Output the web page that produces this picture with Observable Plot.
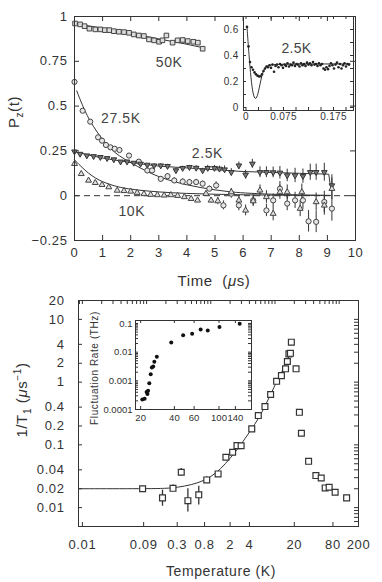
<!DOCTYPE html>
<html><head><meta charset="utf-8">
<script src="https://cdn.jsdelivr.net/npm/d3@7"></script>
<script src="https://cdn.jsdelivr.net/npm/@observablehq/plot@0.6"></script>
<style>
body{margin:0;background:#fff;}
#wrap{position:relative;width:382px;height:582px;font-family:"Liberation Sans",Arial,sans-serif;color:#333;overflow:hidden}
#wrap svg{position:absolute;left:0;}
.lab{position:absolute;white-space:nowrap;transform:translate(-50%,-50%);letter-spacing:0.6px;color:#333}
.rot{transform:translate(-50%,-50%) rotate(-90deg)}
</style></head><body><div id="wrap"></div>
<script>
// ---------- Panel (a): muon polarisation P_z(t) ----------
const timeTicks = [0,1,2,3,4,5,6,7,8,9,10];
const pTicks = [-0.25,0,0.25,0.5,0.75,1];
// [time µs, Pz]
const s50K = [[0.02,0.961],[0.2,0.956],[0.36,0.946],[0.53,0.932],[0.74,0.928],[0.92,0.928],[1.08,0.924],[1.24,0.924],[1.40,0.918],[1.58,0.915],[1.76,0.913],[1.94,0.909],[2.11,0.9],[2.29,0.894],[2.47,0.891],[2.65,0.872],[2.83,0.867],[3.01,0.859],[3.13,0.867],[3.27,0.894],[3.49,0.854],[3.67,0.867],[3.85,0.869],[4.03,0.863],[4.23,0.859],[4.39,0.854],[4.56,0.82]];
// [time, Pz, error]
const s27K = [[0.0,0.635,0],[0.29,0.474,0],[0.56,0.413,0],[0.84,0.326,0],[0.98,0.307,0],[1.12,0.283,0],[1.28,0.27,0],[1.43,0.262,0],[1.6,0.255,0.01],[1.94,0.224,0.01],[2.29,0.19,0.01],[2.59,0.141,0.01],[2.76,0.141,0.01],[3.07,0.094,0.01],[3.31,0.109,0.015],[3.55,0.085,0.015],[3.85,0.079,0.015],[4.09,0.076,0.015],[4.33,0.076,0.015],[4.56,0.067,0.015],[4.8,0.039,0.015],[5.04,0.057,0.02],[5.3,-0.054,0.025],[5.58,0.011,0.025],[5.85,-0.054,0.03],[6.36,-0.026,0.03],[6.83,-0.082,0.035],[7.07,-0.026,0.035],[7.31,0.039,0.04],[7.57,-0.044,0.04],[7.85,-0.026,0.045],[8.13,-0.026,0.05],[8.33,-0.143,0.06],[8.6,-0.146,0.06],[8.89,-0.035,0.06],[9.16,-0.072,0.07]];
const s2p5K = [[0,0.246,0],[0.2,0.233,0],[0.44,0.224,0],[0.68,0.22,0],[0.92,0.215,0],[1.16,0.209,0],[1.4,0.202,0],[1.64,0.19,0],[1.87,0.19,0],[2.11,0.183,0],[2.35,0.178,0],[2.59,0.172,0],[2.83,0.168,0.01],[3.07,0.168,0.01],[3.31,0.165,0.01],[3.61,0.141,0.01],[3.85,0.154,0.01],[4.09,0.159,0.01],[4.33,0.155,0.012],[4.56,0.141,0.012],[4.74,0.154,0.015],[4.98,0.154,0.015],[5.16,0.15,0.015],[5.34,0.146,0.02],[5.58,0.131,0.02],[5.85,0.168,0.02],[6.09,0.117,0.025],[6.33,0.178,0.025],[6.6,0.131,0.03],[6.83,0.131,0.03],[7.07,0.13,0.03],[7.31,0.128,0.035],[7.57,0.113,0.035],[7.85,0.113,0.04],[8.13,0.109,0.04],[8.39,0.131,0.045],[8.6,0.131,0.045],[8.89,0.131,0.05],[9.16,0.057,0.06]];
const s10K = [[0,0.178,0],[0.24,0.122,0],[0.5,0.085,0],[0.74,0.072,0],[0.98,0.061,0],[1.22,0.048,0],[1.52,0.029,0],[1.76,0.027,0],[2.0,0.024,0],[2.23,0.017,0],[2.47,0.01,0],[2.71,0.006,0],[2.95,0.004,0],[3.19,0.002,0],[3.43,0.004,0],[3.67,0.0,0],[3.91,-0.007,0.01],[4.15,-0.017,0.01],[4.38,-0.026,0.01],[4.68,0.011,0.015],[4.86,-0.026,0.015],[5.1,-0.03,0.02],[5.58,0.02,0.02],[5.85,-0.026,0.025],[6.09,-0.082,0.03],[6.36,-0.03,0.03],[6.6,0.03,0.03],[6.83,-0.007,0.035],[7.07,-0.1,0.04],[7.31,0.02,0.04],[7.57,0.02,0.04],[8.03,-0.072,0.045],[8.09,0.02,0.045],[8.6,-0.035,0.05],[8.89,-0.054,0.055],[9.16,0.039,0.06]];
// fitted curves
const fit50K = [[0,0.96],[1,0.935],[2,0.905],[3,0.875],[4,0.845],[4.6,0.825]];
const fit27K = [[0.08,0.585],[0.38,0.465],[0.68,0.382],[0.98,0.317],[1.28,0.262],[1.58,0.222],[2,0.185],[2.5,0.14],[3,0.105],[3.5,0.08],[4,0.06],[4.5,0.045],[5,0.032],[5.5,0.022],[6,0.015],[7,0.008],[8,0.004],[9.1,0.002]];
const fit2p5K = [[0,0.245],[1,0.21],[2,0.185],[3,0.165],[4,0.155],[5,0.145],[6,0.135],[7,0.13],[8,0.125],[9.05,0.12],[9.1,0.06]];
const fit10K = [[0,0.2],[0.5,0.12],[1,0.075],[1.5,0.05],[2,0.035],[3,0.02],[4,0.012],[5,0.008],[6,0.005],[7,0.003],[8,0.002],[9.1,0.001]];
// series labels [text, time, Pz]
const seriesLabels = [["50K",3.37,0.744],["27.5K",1.65,0.428],["2.5K",4.73,0.233],["10K",2.04,-0.089]];

// inset of panel (a): short-time 2.5K data
const insetXTicks = [0,0.075,0.175];
const insetXMinor = [0,0.025,0.05,0.075,0.1,0.125,0.15,0.175,0.2];
const insetYTicks = [0,0.2,0.4,0.6];
const insetYMinor = [0,0.1,0.2,0.3,0.4,0.5,0.6];
const insetT = [0.002,0.005,0.008,0.011,0.014,0.017,0.020,0.023,0.026,0.029,0.032,0.035,0.038,0.041,0.044,0.047,0.050,0.053,0.056,0.059,0.062,0.065,0.068,0.071,0.074,0.077,0.080,0.083,0.086,0.089,0.092,0.095,0.098,0.101,0.104,0.107,0.110,0.113,0.116,0.119,0.122,0.125,0.128,0.131,0.134,0.137,0.140,0.143,0.146,0.149,0.152,0.155,0.158,0.161,0.164,0.167,0.170,0.173,0.176,0.179,0.182,0.185,0.188,0.191,0.194,0.197,0.200,0.203,0.206];
const insetP = [0.62,0.47,0.35,0.31,0.29,0.27,0.255,0.245,0.238,0.24,0.255,0.28,0.30,0.315,0.31,0.325,0.305,0.33,0.275,0.32,0.33,0.31,0.335,0.325,0.305,0.33,0.32,0.34,0.315,0.33,0.325,0.345,0.32,0.335,0.33,0.315,0.34,0.325,0.335,0.32,0.345,0.33,0.34,0.325,0.35,0.33,0.335,0.32,0.34,0.325,0.335,0.30,0.29,0.31,0.295,0.32,0.34,0.325,0.30,0.33,0.345,0.31,0.335,0.30,0.325,0.34,0.315,0.335,0.33];
const insetFit = [[0.002,0.62],[0.006,0.4],[0.01,0.22],[0.014,0.1],[0.019,0.055],[0.024,0.1],[0.029,0.2],[0.034,0.28],[0.04,0.32],[0.05,0.335],[0.208,0.335]];

// ---------- Panel (b): 1/T1 vs temperature ----------
const tempTicks = [0.01,0.09,0.3,0.8,2,4,20,80,200];
const rateTicks = [20,10,4,2,1,0.4,0.2,0.1,0.04,0.02,0.01];
// [T (K), 1/T1, low, high]
const relax = [[0.0867,0.020,0.0185,0.0215],[0.177,0.0143,0.0105,0.019],[0.258,0.0203,0.018,0.023],[0.347,0.0366,0.032,0.042],[0.44,0.0129,0.0085,0.02],[0.65,0.016,0.011,0.022],[0.865,0.0276,0.025,0.031],[1.3,0.0344,0.0344,0.0344],[1.72,0.0634,0.0634,0.0634],[2.19,0.0762,0.0762,0.0762],[2.56,0.0973,0.0973,0.0973],[2.97,0.097,0.097,0.097],[4.35,0.18,0.18,0.18],[5.5,0.293,0.293,0.293],[6.98,0.408,0.408,0.408],[8.55,0.634,0.634,0.634],[10.6,1.03,1.03,1.03],[12.6,1.27,1.27,1.27],[14.6,1.63,1.63,1.63],[15.6,2.13,2.13,2.13],[16.5,2.82,2.82,2.82],[17.4,2.88,2.88,2.88],[18.0,4.33,4.33,4.33],[21.3,1.63,1.63,1.63],[24,0.33,0.33,0.33],[25.8,0.153,0.153,0.153],[33.4,0.0547,0.0547,0.0547],[43.4,0.0324,0.0324,0.0324],[52.5,0.0297,0.0297,0.0297],[60.5,0.0206,0.0206,0.0206],[69.8,0.0211,0.0211,0.0211],[86.5,0.0176,0.0176,0.0176],[130.6,0.0143,0.0143,0.0143]];
const relaxFit = [[0.0087,0.02],[0.1,0.02],[0.2,0.0202],[0.3,0.021],[0.5,0.023],[0.8,0.027],[1.2,0.035],[1.7,0.05],[2.5,0.08],[3.5,0.13],[4.5,0.19],[6,0.3],[8,0.55],[10,0.9],[13,1.5],[16,2.4],[18,3.1]];
// inset: fluctuation rate (THz) vs T
const fluctTicksX = [20,40,60,100,140];
const fluctTicksY = [0.1,0.01,0.001,0.0001];
const fluctT = [20.7,21.7,22.6,23.3,23,23.9,24.6,25.2,25.9,26.5,27.9,37.5,47.9,57.6,68.6,79.4,101,153];
const fluctR = [0.000221,0.000239,0.000407,0.00045,0.00035,0.00083,0.0017,0.0029,0.00313,0.0046,0.0069,0.0216,0.0386,0.044,0.062,0.057,0.075,0.098];

// ---------- drawing ----------
const FONT = '"Liberation Sans", Arial, sans-serif';
const ink = "#333";
const wrap = document.getElementById("wrap");
const st = (fs, ls) => ({fontFamily: FONT, fontSize: fs, color: ink, background: "transparent", letterSpacing: ls || "0.6px"});
const fmt = d => d < 0 ? "\u2212" + (-d) : String(d);
function logMinor(lo, hi) {
  const out = [];
  for (let e = -5; e <= 3; e++) for (let m = 1; m <= 9; m++) { const v = m * Math.pow(10, e); if (v >= lo && v <= hi) out.push(+v.toPrecision(3)); }
  return out;
}
// inward tick marks on all four sides; W,H = frame size in px
function tickMarks(xb, xt, yl, yr, len, W, H) {
  return [
    Plot.ruleX(xb, {x: d => d, insetTop: H - len, stroke: ink}),
    Plot.ruleX(xt, {x: d => d, insetBottom: H - len, stroke: ink}),
    Plot.ruleY(yl, {y: d => d, insetRight: W - len, stroke: ink}),
    Plot.ruleY(yr, {y: d => d, insetLeft: W - len, stroke: ink})
  ];
}
function tickLabels(xs, ys, xdy, ydx, fs) {
  return [
    Plot.text(xs, {x: d => d, text: fmt, frameAnchor: "bottom", dy: xdy, fontSize: fs, fill: ink}),
    Plot.text(ys, {y: d => d, text: fmt, frameAnchor: "left", dx: -ydx, textAnchor: "end", fontSize: fs, fill: ink})
  ];
}
const errs = (arr) => arr.filter(d => d[2] > 0);

// main panel (a): frame x 74..355, y 16..240
const topPlot = Plot.plot({
  width: 382, height: 290, marginLeft: 74, marginRight: 27, marginTop: 16, marginBottom: 50,
  style: st("13px"),
  x: {domain: [0, 10], label: null, axis: null}, y: {domain: [-0.25, 1], label: null, axis: null},
  marks: [
    Plot.ruleY([0], {stroke: ink, strokeDasharray: "6,4"}),
    ...tickMarks(timeTicks, timeTicks, pTicks, pTicks, 5, 281, 224),
    ...tickLabels(timeTicks, pTicks, 16, 7, 13),
    Plot.line(fit50K, {x: "0", y: "1", stroke: ink, strokeWidth: 1}),
    Plot.line(fit27K, {x: "0", y: "1", stroke: ink, strokeWidth: 1, curve: "basis"}),
    Plot.line(fit2p5K, {x: "0", y: "1", stroke: ink, strokeWidth: 1}),
    Plot.line(fit10K, {x: "0", y: "1", stroke: ink, strokeWidth: 1, curve: "basis"}),
    Plot.ruleX(errs(s27K), {x: d => d[0], y1: d => d[1] - d[2], y2: d => d[1] + d[2], stroke: ink}),
    Plot.ruleX(errs(s2p5K), {x: d => d[0], y1: d => d[1] - d[2], y2: d => d[1] + d[2], stroke: ink}),
    Plot.ruleX(errs(s10K), {x: d => d[0], y1: d => d[1] - d[2], y2: d => d[1] + d[2], stroke: ink}),
    Plot.dot(s50K, {x: "0", y: "1", symbol: "square", r: 2.6, fill: "#ddd", stroke: "#444", strokeWidth: 1}),
    Plot.dot(s27K, {x: "0", y: "1", symbol: "circle", r: 2.6, fill: "#e6e6e6", stroke: "#444", strokeWidth: 1}),
    Plot.dot(s2p5K, {x: "0", y: "1", symbol: "triangle", rotate: 180, r: 2.1, fill: "#777", stroke: "#333", strokeWidth: 1}),
    Plot.dot(s10K, {x: "0", y: "1", symbol: "triangle", r: 2.2, fill: "#ddd", stroke: "#444", strokeWidth: 1}),
    Plot.frame({stroke: ink}),
    Plot.text(seriesLabels, {text: "0", x: "1", y: "2", fontSize: 14, fill: "#444"})
  ]
});
topPlot.style.top = "0px";
wrap.appendChild(topPlot);

// inset of (a): frame x 243..353, y 16..110
const topInset = Plot.plot({
  width: 382, height: 130, marginLeft: 243, marginRight: 29, marginTop: 16, marginBottom: 20,
  style: st("10px", "0.3px"),
  x: {domain: [-0.005, 0.215], label: null, axis: null}, y: {domain: [-0.023, 0.7], label: null, axis: null},
  marks: [
    ...tickMarks(insetXMinor, insetXMinor, insetYMinor, insetYMinor, 3, 110, 94),
    ...tickLabels(insetXTicks, insetYTicks, 9, 5, 10),
    Plot.line(insetFit, {x: "0", y: "1", stroke: ink, strokeWidth: 1, curve: "basis"}),
    Plot.dot(insetT, {x: d => d, y: (d, i) => insetP[i], r: 1.3, fill: "#222", stroke: "none"}),
    Plot.frame({stroke: ink}),
    Plot.text(["2.5K"], {text: d => d, frameAnchor: "top-left", dx: 38, dy: 27, fontSize: 14, fill: "#444"})
  ]
});
topInset.style.top = "0px";
wrap.appendChild(topInset);

// main panel (b): frame x 78..358, y 300..526 (svg top 290)
const botPlot = Plot.plot({
  width: 382, height: 292, marginLeft: 78, marginRight: 24, marginTop: 10, marginBottom: 56,
  style: st("13px"),
  x: {type: "log", domain: [0.0087, 200], label: null, axis: null},
  y: {type: "log", domain: [0.005, 20], label: null, axis: null},
  marks: [
    ...tickMarks(tempTicks, logMinor(0.0087, 200), rateTicks, logMinor(0.005, 20), 4, 280, 226),
    ...tickLabels(tempTicks, rateTicks, 22, 14, 13),
    Plot.line(relaxFit, {x: "0", y: "1", stroke: ink, strokeWidth: 1, curve: "basis"}),
    Plot.ruleX(relax.filter(d => d[3] > d[2]), {x: d => d[0], y1: d => d[2], y2: d => d[3], stroke: ink, strokeWidth: 1.3}),
    Plot.dot(relax, {x: "0", y: "1", symbol: "square", r: 3.3, fill: "white", stroke: "#333", strokeWidth: 1.2}),
    Plot.frame({stroke: ink})
  ]
});
botPlot.style.top = "290px";
wrap.appendChild(botPlot);

// inset of (b): frame x 135..251, y 320..409
const botInset = Plot.plot({
  width: 382, height: 140, marginLeft: 135, marginRight: 131, marginTop: 30, marginBottom: 21,
  style: st("9.5px", "0px"),
  x: {type: "log", domain: [18, 195], label: null, axis: null},
  y: {type: "log", domain: [0.0001, 0.127], label: null, axis: null},
  marks: [
    Plot.frame({fill: "white", stroke: "none"}),
    ...tickMarks(fluctTicksX, fluctTicksX, logMinor(0.0001, 0.127), logMinor(0.0001, 0.127), 3, 116, 89),
    ...tickLabels(fluctTicksX, fluctTicksY, 11, 3, 9.5),
    Plot.dot(fluctT, {x: d => d, y: (d, i) => fluctR[i], r: 2, fill: "#111", stroke: "none"}),
    Plot.frame({stroke: ink})
  ]
});
botInset.style.top = "290px";
wrap.appendChild(botInset);

// axis titles
function label(html, x, y, size, rot) {
  const d = document.createElement("div");
  d.className = "lab" + (rot ? " rot" : "");
  d.style.left = x + "px"; d.style.top = y + "px"; d.style.fontSize = size + "px";
  d.innerHTML = html; wrap.appendChild(d);
}
label('P<sub style="font-size:10px">z</sub>(t)', 15, 112, 15, true);
label('Time&nbsp; (<i>\u03bc</i>s)', 214, 280, 15, false);
label('1/T<sub style="font-size:10px">1</sub> (<i>\u03bc</i>s<sup style="font-size:10px">\u22121</sup>)', 22, 400, 15, true);
label('Temperature (K)', 221, 571, 14, false);
label('Fluctuation Rate (THz)', 94, 368, 10, true);
</script></body></html>
